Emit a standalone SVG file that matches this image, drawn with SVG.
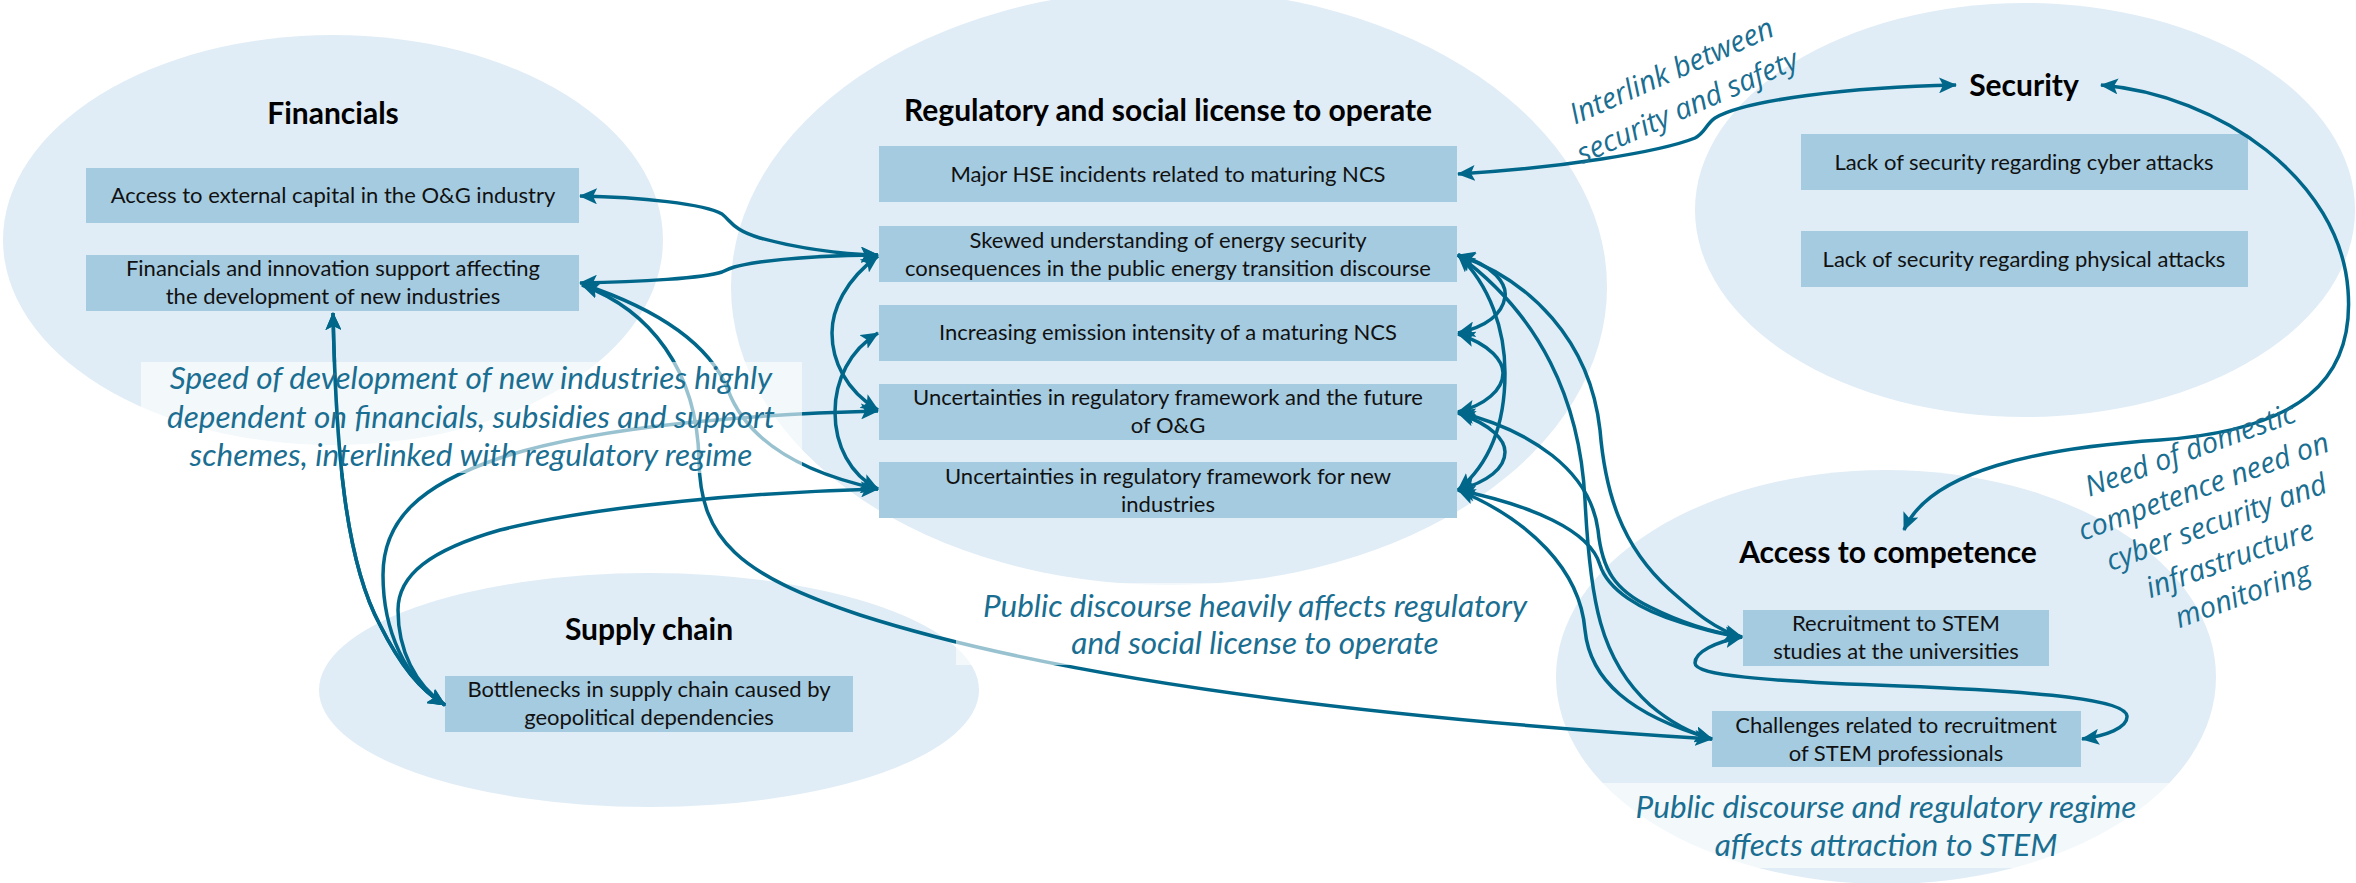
<svg xmlns="http://www.w3.org/2000/svg" width="2356" height="883" viewBox="0 0 2356 883">
<defs>
<marker id="ah" viewBox="0 0 18 16" refX="17" refY="8" markerWidth="18" markerHeight="16" markerUnits="userSpaceOnUse" orient="auto-start-reverse">
<path d="M0,0 L18,8 L0,16 L4,8 Z" fill="#00678A"/>
</marker>
</defs>
<style>
.cl{fill:#E0EDF6}
.bx{fill:#A5CBE0}
.t{font-family:Lato,'Liberation Sans',sans-serif;font-size:22px;fill:#111;text-anchor:middle}
.h{font-family:Lato,'Liberation Sans',sans-serif;font-size:30px;font-weight:bold;fill:#000;text-anchor:middle}
.lb{font-family:Lato,'Liberation Sans',sans-serif;font-size:31.5px;font-style:italic;fill:#1A6E91;text-anchor:middle}
.lr{font-family:'Open Sans','Liberation Sans',sans-serif;font-size:29px;font-style:italic;fill:#1A6E91;text-anchor:middle}
.bg{fill:#fff;fill-opacity:0.6}
.c{fill:none;stroke:#00678A;stroke-width:3.5;marker-start:url(#ah);marker-end:url(#ah)}
</style>
<rect width="2356" height="883" fill="#fff"/>

<g id="cluster-financials"><ellipse class="cl" cx="333" cy="240" rx="330" ry="205"/><text class="h" x="333" y="124">Financials</text></g>
<g id="cluster-regulatory"><ellipse class="cl" cx="1169" cy="287" rx="438" ry="298"/><text class="h" x="1168" y="121">Regulatory and social license to operate</text></g>
<g id="cluster-security"><ellipse class="cl" cx="2025" cy="210" rx="330" ry="207"/><text class="h" x="2024" y="96">Security</text></g>
<g id="cluster-supply"><ellipse class="cl" cx="649" cy="690" rx="330" ry="117"/><text class="h" x="649" y="640">Supply chain</text></g>
<g id="cluster-competence"><ellipse class="cl" cx="1886" cy="677" rx="330" ry="207"/><text class="h" x="1888" y="563">Access to competence</text></g>

<g id="n-capital"><rect class="bx" x="86" y="168" width="493" height="55"/><text class="t" x="333" y="203">Access to external capital in the O&amp;G industry</text></g>
<g id="n-fin-innov"><rect class="bx" x="86" y="255" width="493" height="56"/><text class="t" x="333" y="276">Financials and innovation support affecting</text><text class="t" x="333" y="304">the development of new industries</text></g>
<g id="n-hse"><rect class="bx" x="879" y="146" width="578" height="56"/><text class="t" x="1168" y="182">Major HSE incidents related to maturing NCS</text></g>
<g id="n-skewed"><rect class="bx" x="879" y="226" width="578" height="56"/><text class="t" x="1168" y="248">Skewed understanding of energy security</text><text class="t" x="1168" y="276">consequences in the public energy transition discourse</text></g>
<g id="n-emission"><rect class="bx" x="879" y="305" width="578" height="56"/><text class="t" x="1168" y="340">Increasing emission intensity of a maturing NCS</text></g>
<g id="n-unc-og"><rect class="bx" x="879" y="384" width="578" height="56"/><text class="t" x="1168" y="405">Uncertainties in regulatory framework and the future</text><text class="t" x="1168" y="433">of O&amp;G</text></g>
<g id="n-unc-new"><rect class="bx" x="879" y="462" width="578" height="56"/><text class="t" x="1168" y="484">Uncertainties in regulatory framework for new</text><text class="t" x="1168" y="512">industries</text></g>
<g id="n-cyber"><rect class="bx" x="1801" y="134" width="447" height="56"/><text class="t" x="2024" y="170">Lack of security regarding cyber attacks</text></g>
<g id="n-physical"><rect class="bx" x="1801" y="231" width="447" height="56"/><text class="t" x="2024" y="267">Lack of security regarding physical attacks</text></g>
<g id="n-bottlenecks"><rect class="bx" x="445" y="676" width="408" height="56"/><text class="t" x="649" y="697">Bottlenecks in supply chain caused by</text><text class="t" x="649" y="725">geopolitical dependencies</text></g>
<g id="n-recruit"><rect class="bx" x="1743" y="610" width="306" height="56"/><text class="t" x="1896" y="631">Recruitment to STEM</text><text class="t" x="1896" y="659">studies at the universities</text></g>
<g id="n-challenges"><rect class="bx" x="1712" y="711" width="369" height="56"/><text class="t" x="1896" y="733">Challenges related to recruitment</text><text class="t" x="1896" y="761">of STEM professionals</text></g>

<g id="connectors">
<path class="c" d="M580 196 C640 197,705 204,722 214 C732 222,733 230,760 238 C800 249,840 254,878 255"/>
<path class="c" d="M580 283 C640 282,705 278,722 272 C730 268,734 266,760 262 C800 257,840 255,878 255"/>
<path class="c" d="M582 284 C660 310,710 345,728 390 C745 435,790 470,878 489"/>
<path class="c" d="M582 285 C650 310,697 370,699 460 C700 540,740 575,860 615 C1000 660,1250 710,1712 739"/>
<path class="c" id="c-fin-bottle" d="M333 313 C336 450,345 560,380 625 C400 665,420 690,445 705"/>
<path class="c" d="M445 705 C405 680,383 630,383 575 C383 520,420 485,500 458 C600 425,760 414,878 411"/>
<path class="c" d="M445 705 C415 685,398 650,398 610 C398 575,430 550,500 530 C600 505,760 492,878 489"/>
<path class="c" d="M878 256 C845 280,832 310,832 333 C832 360,845 390,878 410"/>
<path class="c" d="M878 333 C850 350,835 380,835 412 C835 445,850 475,878 489"/>
<path class="c" d="M1458 255 C1495 265,1507 285,1505 297 C1502 315,1485 327,1458 333"/>
<path class="c" d="M1458 334 C1492 345,1503 362,1503 373 C1503 390,1485 405,1458 412"/>
<path class="c" d="M1458 413 C1492 425,1505 440,1505 452 C1505 468,1488 482,1458 490"/>
<path class="c" d="M1458 255 C1490 285,1505 330,1505 373 C1505 420,1492 462,1458 490"/>
<path class="c" d="M1458 255 C1530 280,1590 340,1600 430 C1605 490,1620 545,1670 590 C1695 612,1715 630,1742 637"/>
<path class="c" d="M1458 255 C1540 315,1580 400,1585 500 C1590 600,1600 660,1650 705 C1670 722,1690 733,1712 739"/>
<path class="c" d="M1458 412 C1530 430,1590 470,1598 530 C1602 570,1615 590,1650 607 C1680 622,1710 632,1742 637"/>
<path class="c" d="M1458 490 C1530 505,1590 530,1600 565 C1608 590,1640 610,1680 622 C1705 630,1725 635,1742 637"/>
<path class="c" d="M1458 490 C1530 520,1580 570,1585 630 C1590 680,1630 715,1712 739"/>
<path class="c" d="M1742 637 C1715 642,1695 652,1695 663 C1695 675,1760 681,1900 686 C2050 692,2125 700,2127 716 C2128 728,2105 736,2082 739"/>
<path class="c" d="M1458 174 C1560 168,1660 152,1695 138 C1705 133,1706 124,1715 118 C1745 100,1850 87,1956 85"/>
<path class="c" d="M2101 85 C2220 95,2340 180,2348 290 C2355 380,2300 430,2160 440 C2040 448,1930 470,1904 530"/>
</g>

<g id="label-bgs">
<rect class="bg" x="141" y="362" width="661" height="111"/>
<rect class="bg" x="956" y="583" width="599" height="82"/>
<rect class="bg" x="1600" y="783" width="572" height="85"/>
</g>
<use href="#c-fin-bottle"/>

<g id="labels">
<text class="lb" x="471" y="389">Speed of development of new industries highly</text>
<text class="lb" x="471" y="428">dependent on financials, subsidies and support</text>
<text class="lb" x="471" y="466">schemes, interlinked with regulatory regime</text>
<text class="lb" x="1255" y="617">Public discourse heavily affects regulatory</text>
<text class="lb" x="1255" y="654">and social license to operate</text>
<text class="lb" x="1886" y="818">Public discourse and regulatory regime</text>
<text class="lb" x="1886" y="856">affects attraction to STEM</text>
<g transform="translate(1680,90) rotate(-24)"><text class="lr" x="0" y="-11">Interlink between</text><text class="lr" x="0" y="28">security and safety</text></g>
<g transform="translate(2217,524) rotate(-20)"><text class="lr" x="0" y="-69">Need of domestic</text><text class="lr" x="0" y="-30">competence need on</text><text class="lr" x="0" y="8">cyber security and</text><text class="lr" x="0" y="47">infrastructure</text><text class="lr" x="0" y="85">monitoring</text></g>
</g>
</svg>
